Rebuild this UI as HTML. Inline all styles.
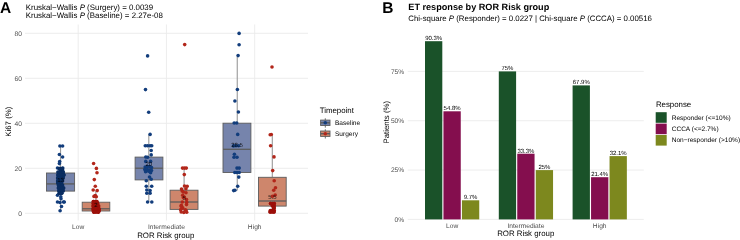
<!DOCTYPE html>
<html><head><meta charset="utf-8">
<style>
html,body{margin:0;padding:0;background:#fff;}
body{width:740px;height:240px;overflow:hidden;}
svg{display:block;will-change:transform;text-rendering:geometricPrecision;font-family:"Liberation Sans",sans-serif;}
.grid{stroke:#ebebeb;stroke-width:0.9;fill:none;}
.tick{font-size:6.65px;fill:#4d4d4d;}
.ttl{font-size:7.85px;fill:#000;}
.lab{font-size:6px;fill:#000;}
.leg{font-size:6.55px;fill:#000;}
</style></head>
<body>
<svg width="740" height="240" viewBox="0 0 740 240">
<rect width="740" height="240" fill="#fff"/>
<!-- ============ PANEL A ============ -->
<text x="-0.1" y="12.75" font-size="15.5" font-weight="bold">A</text>
<text class="ttl" x="25.8" y="10.25" style="font-size:7.9px">Kruskal−Wallis <tspan font-style="italic">P</tspan> (Surgery) = 0.0039</text>
<text class="ttl" x="25.8" y="18.45" style="font-size:7.9px">Kruskal−Wallis <tspan font-style="italic">P</tspan> (Baseline) = 2.27e-08</text>
<g class="grid">
<line x1="25" x2="308" y1="33.3" y2="33.3"/>
<line x1="25" x2="308" y1="78.3" y2="78.3"/>
<line x1="25" x2="308" y1="123.3" y2="123.3"/>
<line x1="25" x2="308" y1="168.3" y2="168.3"/>
<line x1="25" x2="308" y1="213.3" y2="213.3"/>
<line y1="24.5" y2="220.5" x1="78.2" x2="78.2"/>
<line y1="24.5" y2="220.5" x1="166.45" x2="166.45"/>
<line y1="24.5" y2="220.5" x1="254.7" x2="254.7"/>
</g>
<g class="tick" text-anchor="end">
<text x="21.9" y="35.6">80</text>
<text x="21.9" y="80.6">60</text>
<text x="21.9" y="125.6">40</text>
<text x="21.9" y="170.6">20</text>
<text x="21.9" y="215.6">0</text>
</g>
<g class="tick" text-anchor="middle">
<text x="78.2" y="229.1">Low</text>
<text x="166.45" y="229.1">Intermediate</text>
<text x="254.7" y="229.1">High</text>
</g>
<text class="ttl" x="165.7" y="238" text-anchor="middle">ROR Risk group</text>
<text class="ttl" transform="translate(11,121.7) rotate(-90)" text-anchor="middle">Ki67 (%)</text>

<g id="boxesA">
<line x1="60.55" x2="60.55" y1="146.0" y2="173.0" stroke="#999999" stroke-width="1.1"/>
<line x1="60.55" x2="60.55" y1="191.1" y2="210.8" stroke="#999999" stroke-width="1.1"/>
<rect x="46.5" y="173.0" width="28.10" height="18.10" fill="#7684ac" stroke="#5c5c5c" stroke-width="0.9"/>
<line x1="46.5" x2="74.6" y1="183.9" y2="183.9" stroke="#5c5c5c" stroke-width="1.3"/>
<line x1="95.85" x2="95.85" y1="191.0" y2="202.2" stroke="#999999" stroke-width="1.1"/>
<line x1="95.85" x2="95.85" y1="211.0" y2="213.3" stroke="#999999" stroke-width="1.1"/>
<rect x="82.2" y="202.2" width="27.60" height="8.80" fill="#ce866c" stroke="#5c5c5c" stroke-width="0.9"/>
<line x1="82.2" x2="109.8" y1="208.8" y2="208.8" stroke="#5c5c5c" stroke-width="1.3"/>
<line x1="148.8" x2="148.8" y1="134.4" y2="157.1" stroke="#999999" stroke-width="1.1"/>
<line x1="148.8" x2="148.8" y1="179.9" y2="202.0" stroke="#999999" stroke-width="1.1"/>
<rect x="135.1" y="157.1" width="27.80" height="22.80" fill="#7684ac" stroke="#5c5c5c" stroke-width="0.9"/>
<line x1="135.1" x2="162.9" y1="168.2" y2="168.2" stroke="#5c5c5c" stroke-width="1.3"/>
<line x1="184.1" x2="184.1" y1="168.1" y2="190.2" stroke="#999999" stroke-width="1.1"/>
<line x1="184.1" x2="184.1" y1="209.4" y2="213.3" stroke="#999999" stroke-width="1.1"/>
<rect x="170.1" y="190.2" width="27.90" height="19.20" fill="#ce866c" stroke="#5c5c5c" stroke-width="0.9"/>
<line x1="170.1" x2="198.0" y1="202.0" y2="202.0" stroke="#5c5c5c" stroke-width="1.3"/>
<line x1="237.25" x2="237.25" y1="56.3" y2="123.2" stroke="#999999" stroke-width="1.1"/>
<line x1="237.25" x2="237.25" y1="172.5" y2="190.6" stroke="#999999" stroke-width="1.1"/>
<rect x="223.0" y="123.2" width="27.90" height="49.30" fill="#7684ac" stroke="#5c5c5c" stroke-width="0.9"/>
<line x1="223.0" x2="250.9" y1="149.3" y2="149.3" stroke="#5c5c5c" stroke-width="1.3"/>
<line x1="272.3" x2="272.3" y1="134.5" y2="177.3" stroke="#999999" stroke-width="1.1"/>
<line x1="272.3" x2="272.3" y1="206.1" y2="213.3" stroke="#999999" stroke-width="1.1"/>
<rect x="258.5" y="177.3" width="27.70" height="28.80" fill="#ce866c" stroke="#5c5c5c" stroke-width="0.9"/>
<line x1="258.5" x2="286.2" y1="201.0" y2="201.0" stroke="#5c5c5c" stroke-width="1.3"/>
<circle cx="59.90" cy="146.00" r="1.8" fill="#123d7c" fill-opacity="1"/>
<circle cx="62.60" cy="146.00" r="1.8" fill="#123d7c" fill-opacity="1"/>
<circle cx="59.40" cy="154.50" r="1.8" fill="#123d7c" fill-opacity="1"/>
<circle cx="62.60" cy="157.00" r="1.8" fill="#123d7c" fill-opacity="1"/>
<circle cx="59.70" cy="161.50" r="1.8" fill="#123d7c" fill-opacity="1"/>
<circle cx="59.40" cy="163.60" r="1.8" fill="#123d7c" fill-opacity="1"/>
<circle cx="57.50" cy="168.00" r="1.8" fill="#123d7c" fill-opacity="1"/>
<circle cx="62.80" cy="168.00" r="1.8" fill="#123d7c" fill-opacity="1"/>
<circle cx="57.50" cy="195.20" r="1.8" fill="#123d7c" fill-opacity="1"/>
<circle cx="60.80" cy="196.80" r="1.8" fill="#123d7c" fill-opacity="1"/>
<circle cx="61.00" cy="198.80" r="1.8" fill="#123d7c" fill-opacity="1"/>
<circle cx="57.50" cy="202.00" r="1.8" fill="#123d7c" fill-opacity="1"/>
<circle cx="60.00" cy="202.50" r="1.8" fill="#123d7c" fill-opacity="1"/>
<circle cx="63.50" cy="202.00" r="1.8" fill="#123d7c" fill-opacity="1"/>
<circle cx="64.30" cy="202.00" r="1.8" fill="#123d7c" fill-opacity="1"/>
<circle cx="61.50" cy="206.50" r="1.8" fill="#123d7c" fill-opacity="1"/>
<circle cx="60.10" cy="210.80" r="1.8" fill="#123d7c" fill-opacity="1"/>
<path d="M58.10,168.50 L59.10,170.00 L56.70,172.00 L56.60,175.00 L56.40,178.00 L56.40,181.00 L56.50,183.00 L57.10,185.00 L57.10,188.00 L57.60,191.00 L58.10,193.30 L62.90,193.30 L64.40,191.00 L64.90,188.00 L63.80,185.00 L62.70,183.00 L63.80,181.00 L64.40,178.00 L65.30,175.00 L64.50,172.00 L63.80,170.00 L63.40,168.50 Z" fill="#092c60"/>
<circle cx="59.30" cy="168.50" r="1.8" fill="#092c60"/>
<circle cx="62.20" cy="168.50" r="1.8" fill="#092c60"/>
<circle cx="60.30" cy="170.00" r="1.8" fill="#092c60"/>
<circle cx="62.60" cy="170.00" r="1.8" fill="#092c60"/>
<circle cx="57.90" cy="172.00" r="1.8" fill="#092c60"/>
<circle cx="63.30" cy="172.00" r="1.8" fill="#092c60"/>
<circle cx="57.80" cy="175.00" r="1.8" fill="#092c60"/>
<circle cx="64.10" cy="175.00" r="1.8" fill="#092c60"/>
<circle cx="57.60" cy="178.00" r="1.8" fill="#092c60"/>
<circle cx="63.20" cy="178.00" r="1.8" fill="#092c60"/>
<circle cx="57.60" cy="181.00" r="1.8" fill="#092c60"/>
<circle cx="62.60" cy="181.00" r="1.8" fill="#092c60"/>
<circle cx="57.70" cy="183.00" r="1.8" fill="#092c60"/>
<circle cx="61.50" cy="183.00" r="1.8" fill="#092c60"/>
<circle cx="58.30" cy="185.00" r="1.8" fill="#092c60"/>
<circle cx="62.60" cy="185.00" r="1.8" fill="#092c60"/>
<circle cx="58.30" cy="188.00" r="1.8" fill="#092c60"/>
<circle cx="63.70" cy="188.00" r="1.8" fill="#092c60"/>
<circle cx="58.80" cy="191.00" r="1.8" fill="#092c60"/>
<circle cx="63.20" cy="191.00" r="1.8" fill="#092c60"/>
<circle cx="59.30" cy="193.30" r="1.8" fill="#092c60"/>
<circle cx="61.70" cy="193.30" r="1.8" fill="#092c60"/>
<circle cx="59.30" cy="168.50" r="1.8" fill="#092c60"/>
<circle cx="60.75" cy="168.50" r="1.8" fill="#092c60"/>
<circle cx="62.20" cy="168.50" r="1.8" fill="#092c60"/>
<circle cx="59.30" cy="193.30" r="1.8" fill="#092c60"/>
<circle cx="60.50" cy="193.30" r="1.8" fill="#092c60"/>
<circle cx="61.70" cy="193.30" r="1.8" fill="#092c60"/>
<circle cx="93.60" cy="163.50" r="1.8" fill="#b2261a" fill-opacity="1"/>
<circle cx="96.40" cy="168.40" r="1.8" fill="#b2261a" fill-opacity="1"/>
<circle cx="97.00" cy="172.80" r="1.8" fill="#b2261a" fill-opacity="1"/>
<circle cx="94.30" cy="179.60" r="1.8" fill="#b2261a" fill-opacity="1"/>
<circle cx="95.30" cy="186.20" r="1.8" fill="#b2261a" fill-opacity="1"/>
<circle cx="93.20" cy="190.00" r="1.8" fill="#b2261a" fill-opacity="1"/>
<circle cx="97.20" cy="190.60" r="1.8" fill="#b2261a" fill-opacity="1"/>
<circle cx="94.00" cy="196.40" r="1.8" fill="#b2261a" fill-opacity="1"/>
<circle cx="96.30" cy="196.80" r="1.8" fill="#b2261a" fill-opacity="1"/>
<circle cx="95.30" cy="195.60" r="1.8" fill="#b2261a" fill-opacity="1"/>
<path d="M92.20,201.60 L91.90,203.50 L91.80,206.00 L91.80,209.00 L92.00,211.00 L92.60,212.10 L99.60,212.10 L100.40,211.00 L100.40,209.00 L99.90,206.00 L98.90,203.50 L98.00,201.60 Z" fill="#9c0f09"/>
<circle cx="93.40" cy="201.60" r="1.8" fill="#9c0f09"/>
<circle cx="96.80" cy="201.60" r="1.8" fill="#9c0f09"/>
<circle cx="93.10" cy="203.50" r="1.8" fill="#9c0f09"/>
<circle cx="97.70" cy="203.50" r="1.8" fill="#9c0f09"/>
<circle cx="93.00" cy="206.00" r="1.8" fill="#9c0f09"/>
<circle cx="98.70" cy="206.00" r="1.8" fill="#9c0f09"/>
<circle cx="93.00" cy="209.00" r="1.8" fill="#9c0f09"/>
<circle cx="99.20" cy="209.00" r="1.8" fill="#9c0f09"/>
<circle cx="93.20" cy="211.00" r="1.8" fill="#9c0f09"/>
<circle cx="99.20" cy="211.00" r="1.8" fill="#9c0f09"/>
<circle cx="93.80" cy="212.10" r="1.8" fill="#9c0f09"/>
<circle cx="98.40" cy="212.10" r="1.8" fill="#9c0f09"/>
<circle cx="93.40" cy="201.60" r="1.8" fill="#9c0f09"/>
<circle cx="95.10" cy="201.60" r="1.8" fill="#9c0f09"/>
<circle cx="96.80" cy="201.60" r="1.8" fill="#9c0f09"/>
<circle cx="93.80" cy="212.10" r="1.8" fill="#9c0f09"/>
<circle cx="95.33" cy="212.10" r="1.8" fill="#9c0f09"/>
<circle cx="96.87" cy="212.10" r="1.8" fill="#9c0f09"/>
<circle cx="98.40" cy="212.10" r="1.8" fill="#9c0f09"/>
<circle cx="147.60" cy="55.90" r="1.8" fill="#123d7c" fill-opacity="1"/>
<circle cx="145.50" cy="89.60" r="1.8" fill="#123d7c" fill-opacity="1"/>
<circle cx="148.70" cy="112.30" r="1.8" fill="#123d7c" fill-opacity="1"/>
<circle cx="150.10" cy="134.40" r="1.8" fill="#123d7c" fill-opacity="1"/>
<circle cx="145.30" cy="145.70" r="1.8" fill="#123d7c" fill-opacity="1"/>
<circle cx="147.50" cy="145.70" r="1.8" fill="#123d7c" fill-opacity="1"/>
<circle cx="150.00" cy="145.70" r="1.8" fill="#123d7c" fill-opacity="1"/>
<circle cx="151.70" cy="145.70" r="1.8" fill="#123d7c" fill-opacity="1"/>
<circle cx="151.20" cy="150.50" r="1.8" fill="#123d7c" fill-opacity="1"/>
<circle cx="151.20" cy="154.90" r="1.8" fill="#123d7c" fill-opacity="1"/>
<circle cx="145.80" cy="157.00" r="1.8" fill="#123d7c" fill-opacity="1"/>
<circle cx="147.60" cy="157.30" r="1.8" fill="#123d7c" fill-opacity="1"/>
<circle cx="145.75" cy="161.40" r="1.8" fill="#123d7c" fill-opacity="1"/>
<circle cx="150.60" cy="161.40" r="1.8" fill="#123d7c" fill-opacity="1"/>
<circle cx="145.20" cy="167.00" r="1.8" fill="#123d7c" fill-opacity="1"/>
<circle cx="147.50" cy="166.50" r="1.8" fill="#123d7c" fill-opacity="1"/>
<circle cx="149.80" cy="166.50" r="1.8" fill="#123d7c" fill-opacity="1"/>
<circle cx="151.50" cy="167.50" r="1.8" fill="#123d7c" fill-opacity="1"/>
<circle cx="144.80" cy="169.50" r="1.8" fill="#123d7c" fill-opacity="1"/>
<circle cx="147.20" cy="169.50" r="1.8" fill="#123d7c" fill-opacity="1"/>
<circle cx="149.50" cy="170.00" r="1.8" fill="#123d7c" fill-opacity="1"/>
<circle cx="151.50" cy="170.50" r="1.8" fill="#123d7c" fill-opacity="1"/>
<circle cx="145.60" cy="171.80" r="1.8" fill="#123d7c" fill-opacity="1"/>
<circle cx="148.60" cy="171.30" r="1.8" fill="#123d7c" fill-opacity="1"/>
<circle cx="150.60" cy="172.80" r="1.8" fill="#123d7c" fill-opacity="1"/>
<circle cx="149.50" cy="177.00" r="1.8" fill="#123d7c" fill-opacity="1"/>
<circle cx="146.30" cy="180.80" r="1.8" fill="#123d7c" fill-opacity="1"/>
<circle cx="151.20" cy="179.20" r="1.8" fill="#123d7c" fill-opacity="1"/>
<circle cx="146.30" cy="186.30" r="1.8" fill="#123d7c" fill-opacity="1"/>
<circle cx="151.70" cy="186.30" r="1.8" fill="#123d7c" fill-opacity="1"/>
<circle cx="146.80" cy="190.00" r="1.8" fill="#123d7c" fill-opacity="1"/>
<circle cx="150.10" cy="190.60" r="1.8" fill="#123d7c" fill-opacity="1"/>
<circle cx="146.80" cy="193.30" r="1.8" fill="#123d7c" fill-opacity="1"/>
<circle cx="150.10" cy="193.30" r="1.8" fill="#123d7c" fill-opacity="1"/>
<circle cx="147.60" cy="202.00" r="1.8" fill="#123d7c" fill-opacity="1"/>
<circle cx="151.80" cy="202.00" r="1.8" fill="#123d7c" fill-opacity="1"/>
<circle cx="184.70" cy="44.60" r="1.8" fill="#b2261a" fill-opacity="1"/>
<circle cx="182.50" cy="168.10" r="1.8" fill="#b2261a" fill-opacity="1"/>
<circle cx="184.50" cy="168.10" r="1.8" fill="#b2261a" fill-opacity="1"/>
<circle cx="186.30" cy="168.10" r="1.8" fill="#b2261a" fill-opacity="1"/>
<circle cx="184.30" cy="174.60" r="1.8" fill="#b2261a" fill-opacity="1"/>
<circle cx="184.50" cy="186.00" r="1.8" fill="#b2261a" fill-opacity="1"/>
<circle cx="187.20" cy="186.20" r="1.8" fill="#b2261a" fill-opacity="1"/>
<circle cx="186.00" cy="188.80" r="1.8" fill="#b2261a" fill-opacity="1"/>
<circle cx="181.50" cy="189.00" r="1.8" fill="#b2261a" fill-opacity="1"/>
<circle cx="182.20" cy="191.00" r="1.8" fill="#b2261a" fill-opacity="1"/>
<circle cx="183.30" cy="192.00" r="1.8" fill="#b2261a" fill-opacity="1"/>
<circle cx="186.00" cy="192.70" r="1.8" fill="#b2261a" fill-opacity="1"/>
<circle cx="182.70" cy="195.30" r="1.8" fill="#b2261a" fill-opacity="1"/>
<circle cx="184.30" cy="197.00" r="1.8" fill="#b2261a" fill-opacity="1"/>
<circle cx="183.30" cy="197.50" r="1.8" fill="#b2261a" fill-opacity="1"/>
<circle cx="186.50" cy="199.50" r="1.8" fill="#b2261a" fill-opacity="1"/>
<circle cx="186.70" cy="202.30" r="1.8" fill="#b2261a" fill-opacity="1"/>
<circle cx="182.30" cy="202.00" r="1.8" fill="#b2261a" fill-opacity="1"/>
<circle cx="181.30" cy="205.30" r="1.8" fill="#b2261a" fill-opacity="1"/>
<circle cx="186.50" cy="204.60" r="1.8" fill="#b2261a" fill-opacity="1"/>
<circle cx="181.30" cy="206.30" r="1.8" fill="#b2261a" fill-opacity="1"/>
<circle cx="182.70" cy="207.70" r="1.8" fill="#b2261a" fill-opacity="1"/>
<circle cx="181.30" cy="208.70" r="1.8" fill="#b2261a" fill-opacity="1"/>
<circle cx="185.10" cy="209.80" r="1.8" fill="#b2261a" fill-opacity="1"/>
<circle cx="180.70" cy="210.00" r="1.8" fill="#b2261a" fill-opacity="1"/>
<circle cx="186.00" cy="210.30" r="1.8" fill="#b2261a" fill-opacity="1"/>
<circle cx="181.20" cy="212.00" r="1.8" fill="#b2261a" fill-opacity="1"/>
<circle cx="183.80" cy="212.50" r="1.8" fill="#b2261a" fill-opacity="1"/>
<circle cx="186.70" cy="212.30" r="1.8" fill="#b2261a" fill-opacity="1"/>
<circle cx="239.10" cy="33.40" r="1.8" fill="#123d7c" fill-opacity="1"/>
<circle cx="239.10" cy="44.70" r="1.8" fill="#123d7c" fill-opacity="1"/>
<circle cx="238.10" cy="55.60" r="1.8" fill="#123d7c" fill-opacity="1"/>
<circle cx="237.40" cy="89.50" r="1.8" fill="#123d7c" fill-opacity="1"/>
<circle cx="234.90" cy="101.00" r="1.8" fill="#123d7c" fill-opacity="1"/>
<circle cx="238.40" cy="112.00" r="1.8" fill="#123d7c" fill-opacity="1"/>
<circle cx="234.20" cy="123.00" r="1.8" fill="#123d7c" fill-opacity="1"/>
<circle cx="236.70" cy="123.00" r="1.8" fill="#123d7c" fill-opacity="1"/>
<circle cx="237.70" cy="134.40" r="1.8" fill="#123d7c" fill-opacity="1"/>
<circle cx="233.50" cy="145.90" r="1.8" fill="#123d7c" fill-opacity="1"/>
<circle cx="236.00" cy="145.70" r="1.8" fill="#123d7c" fill-opacity="1"/>
<circle cx="238.60" cy="145.70" r="1.8" fill="#123d7c" fill-opacity="1"/>
<circle cx="234.40" cy="154.30" r="1.8" fill="#123d7c" fill-opacity="1"/>
<circle cx="234.00" cy="157.30" r="1.8" fill="#123d7c" fill-opacity="1"/>
<circle cx="237.00" cy="157.30" r="1.8" fill="#123d7c" fill-opacity="1"/>
<circle cx="237.00" cy="168.10" r="1.8" fill="#123d7c" fill-opacity="1"/>
<circle cx="239.20" cy="168.10" r="1.8" fill="#123d7c" fill-opacity="1"/>
<circle cx="234.80" cy="172.50" r="1.8" fill="#123d7c" fill-opacity="1"/>
<circle cx="237.00" cy="172.50" r="1.8" fill="#123d7c" fill-opacity="1"/>
<circle cx="239.20" cy="172.50" r="1.8" fill="#123d7c" fill-opacity="1"/>
<circle cx="238.80" cy="177.10" r="1.8" fill="#123d7c" fill-opacity="1"/>
<circle cx="237.70" cy="186.20" r="1.8" fill="#123d7c" fill-opacity="1"/>
<circle cx="233.70" cy="190.60" r="1.8" fill="#123d7c" fill-opacity="1"/>
<circle cx="234.90" cy="190.20" r="1.8" fill="#123d7c" fill-opacity="1"/>
<path d="M269.40,203.50 L271.10,206.00 L272.60,208.00 L269.10,210.50 L268.90,212.00 L275.20,212.00 L275.40,210.50 L275.40,208.00 L275.40,206.00 L275.40,203.50 Z" fill="#9c0f09"/>
<circle cx="270.60" cy="203.50" r="1.8" fill="#9c0f09"/>
<circle cx="274.20" cy="203.50" r="1.8" fill="#9c0f09"/>
<circle cx="272.30" cy="206.00" r="1.8" fill="#9c0f09"/>
<circle cx="274.20" cy="206.00" r="1.8" fill="#9c0f09"/>
<circle cx="273.80" cy="208.00" r="1.8" fill="#9c0f09"/>
<circle cx="274.20" cy="208.00" r="1.8" fill="#9c0f09"/>
<circle cx="270.30" cy="210.50" r="1.8" fill="#9c0f09"/>
<circle cx="274.20" cy="210.50" r="1.8" fill="#9c0f09"/>
<circle cx="270.10" cy="212.00" r="1.8" fill="#9c0f09"/>
<circle cx="274.00" cy="212.00" r="1.8" fill="#9c0f09"/>
<circle cx="270.60" cy="203.50" r="1.8" fill="#9c0f09"/>
<circle cx="272.40" cy="203.50" r="1.8" fill="#9c0f09"/>
<circle cx="274.20" cy="203.50" r="1.8" fill="#9c0f09"/>
<circle cx="270.10" cy="212.00" r="1.8" fill="#9c0f09"/>
<circle cx="271.40" cy="212.00" r="1.8" fill="#9c0f09"/>
<circle cx="272.70" cy="212.00" r="1.8" fill="#9c0f09"/>
<circle cx="274.00" cy="212.00" r="1.8" fill="#9c0f09"/>
<circle cx="272.00" cy="67.00" r="1.8" fill="#b2261a" fill-opacity="1"/>
<circle cx="271.30" cy="134.50" r="1.8" fill="#b2261a" fill-opacity="1"/>
<circle cx="270.20" cy="134.70" r="1.8" fill="#b2261a" fill-opacity="1"/>
<circle cx="270.60" cy="145.80" r="1.8" fill="#b2261a" fill-opacity="1"/>
<circle cx="274.00" cy="156.90" r="1.8" fill="#b2261a" fill-opacity="1"/>
<circle cx="272.70" cy="170.60" r="1.8" fill="#b2261a" fill-opacity="1"/>
<circle cx="274.20" cy="180.70" r="1.8" fill="#b2261a" fill-opacity="1"/>
<circle cx="275.50" cy="187.80" r="1.8" fill="#b2261a" fill-opacity="1"/>
<circle cx="273.70" cy="190.20" r="1.8" fill="#b2261a" fill-opacity="1"/>
<circle cx="275.20" cy="195.00" r="1.8" fill="#b2261a" fill-opacity="1"/>
<circle cx="272.50" cy="196.20" r="1.8" fill="#b2261a" fill-opacity="1"/>
<text x="60.55" y="181.70" font-size="6" text-anchor="middle" fill="#000" fill-opacity="0.85">13</text>
<text x="95.85" y="206.60" font-size="6" text-anchor="middle" fill="#000" fill-opacity="0.85">2</text>
<text x="148.8" y="166.00" font-size="6" text-anchor="middle" fill="#000" fill-opacity="0.85">20</text>
<text x="184.1" y="199.80" font-size="6" text-anchor="middle" fill="#000" fill-opacity="0.85">5</text>
<text x="237.05" y="146.80" font-size="6" text-anchor="middle" fill="#000" fill-opacity="0.85">28.5</text>
<text x="272.35" y="198.60" font-size="6" text-anchor="middle" fill="#000" fill-opacity="0.85">5.5</text>
</g>

<!-- legend A -->
<g id="legA">
<line x1="325.3" x2="325.3" y1="118.3" y2="127.6" stroke="#5c5c5c" stroke-width="0.9"/>
<rect x="320.6" y="120.1" width="9.4" height="5.4" fill="#7684ac" stroke="#5c5c5c" stroke-width="0.9"/>
<line x1="320.6" x2="330" y1="122.8" y2="122.8" stroke="#5c5c5c" stroke-width="1.4"/>
<circle cx="325.3" cy="122.8" r="1.8" fill="#123d7c"/>
<line x1="325.3" x2="325.3" y1="129.3" y2="138.5" stroke="#5c5c5c" stroke-width="0.9"/>
<rect x="320.6" y="131.0" width="9.4" height="5.4" fill="#ce866c" stroke="#5c5c5c" stroke-width="0.9"/>
<line x1="320.6" x2="330" y1="133.7" y2="133.7" stroke="#5c5c5c" stroke-width="1.4"/>
<circle cx="325.3" cy="133.7" r="1.8" fill="#b2261a"/>
</g>
<text class="ttl" x="319.7" y="112.6">Timepoint</text>
<text class="leg" x="335" y="125.1">Baseline</text>
<text class="leg" x="335" y="136">Surgery</text>

<!-- ============ PANEL B ============ -->
<text x="382.3" y="12.75" font-size="15.5" font-weight="bold">B</text>
<text x="408.3" y="9.9" font-size="9.14" font-weight="bold">ET response by ROR Risk group</text>
<text class="ttl" x="408.3" y="21.2">Chi-square <tspan font-style="italic">P</tspan> (Responder) = 0.0227 | Chi-square <tspan font-style="italic">P</tspan> (CCCA) = 0.00516</text>
<g class="grid">
<line x1="407.75" x2="643.8" y1="219.4" y2="219.4"/>
<line x1="407.75" x2="643.8" y1="170.07" y2="170.07"/>
<line x1="407.75" x2="643.8" y1="120.73" y2="120.73"/>
<line x1="407.75" x2="643.8" y1="71.4" y2="71.4"/>
</g>
<g class="tick" text-anchor="end">
<text x="404.2" y="221.7">0%</text>
<text x="404.2" y="172.4">25%</text>
<text x="404.2" y="123.0">50%</text>
<text x="404.2" y="73.7">75%</text>
</g>
<g class="tick" text-anchor="middle">
<text x="452.1" y="227.6">Low</text>
<text x="525.9" y="227.6">Intermediate</text>
<text x="599.7" y="227.6">High</text>
</g>
<text class="ttl" x="525.7" y="236.2" text-anchor="middle">ROR Risk group</text>
<text class="ttl" transform="translate(388.6,122.2) rotate(-90)" text-anchor="middle">Patients (%)</text>

<g id="bars">
<rect x="425" y="41.2" width="17.3" height="178.2" fill="#1a5229"/>
<rect x="443.45" y="111.3" width="17.3" height="108.1" fill="#840e4e"/>
<rect x="461.95" y="200.3" width="17.3" height="19.1" fill="#7d881e"/>
<rect x="498.8" y="71.4" width="17.3" height="148" fill="#1a5229"/>
<rect x="517.25" y="153.7" width="17.3" height="65.7" fill="#840e4e"/>
<rect x="535.75" y="170.1" width="17.3" height="49.3" fill="#7d881e"/>
<rect x="572.6" y="85.4" width="17.3" height="134" fill="#1a5229"/>
<rect x="591.05" y="177.2" width="17.3" height="42.2" fill="#840e4e"/>
<rect x="609.55" y="156.1" width="17.3" height="63.3" fill="#7d881e"/>
</g>
<g class="lab" text-anchor="middle">
<text x="433.65" y="40.2">90.3%</text>
<text x="452.1" y="110.3">54.8%</text>
<text x="470.6" y="199.3">9.7%</text>
<text x="507.45" y="70.4">75%</text>
<text x="525.9" y="152.7">33.3%</text>
<text x="544.4" y="169.1">25%</text>
<text x="581.25" y="84.4">67.9%</text>
<text x="599.7" y="176.2">21.4%</text>
<text x="618.2" y="155.1">32.1%</text>
</g>

<!-- legend B -->
<text class="ttl" x="655.9" y="107">Response</text>
<rect x="655.7" y="112.2" width="11" height="10.6" fill="#1a5229"/>
<rect x="655.7" y="123.6" width="11" height="10.6" fill="#840e4e"/>
<rect x="655.7" y="135" width="11" height="10.6" fill="#7d881e"/>
<text class="leg" x="671.7" y="120">Responder (&lt;=10%)</text>
<text class="leg" x="671.7" y="131.3">CCCA (&lt;=2.7%)</text>
<text class="leg" x="671.7" y="142.2">Non−responder (&gt;10%)</text>
</svg>
</body></html>
